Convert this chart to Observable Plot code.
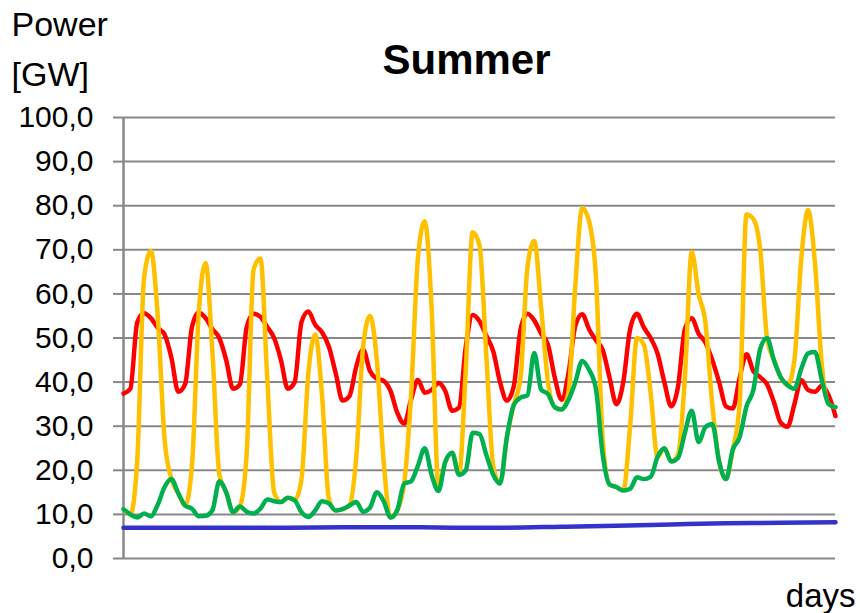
<!DOCTYPE html>
<html>
<head>
<meta charset="utf-8">
<script src="https://cdn.jsdelivr.net/npm/d3@7"></script>
<script src="https://cdn.jsdelivr.net/npm/@observablehq/plot@0.6"></script>
<style>
  html, body { margin: 0; padding: 0; background: #fff; }
  #chart svg { display: block; }
</style>
</head>
<body>
<div id="chart"></div>
<script>
// ---- data ----
const stepHours = 3;       // spacing of the samples below, in hours
const baseStepHours = 24;  // spacing of the base-load samples
const yTicks = [0, 10, 20, 30, 40, 50, 60, 70, 80, 90, 100];

// red: total load [GW], one value every 3 h, 13 summer days
const load = [
  37.4, 38.5, 53.5, 55.6, 54.5, 52.3, 50.8, 45.5,
  37.8, 39.5, 52.5, 55.8, 54.5, 52.0, 50.0, 45.0,
  38.5, 39.5, 52.5, 55.5, 54.8, 52.5, 50.0, 45.0,
  38.5, 40.0, 53.6, 56.0, 53.0, 51.3, 48.0, 42.0,
  35.8, 36.8, 43.5, 47.4, 42.5, 40.8, 40.3, 38.0,
  33.0, 30.6, 36.0, 40.5, 37.6, 38.2, 39.8, 38.0,
  33.5, 34.2, 48.0, 55.2, 53.8, 50.5, 47.0, 40.0,
  35.8, 39.0, 52.0, 55.5, 54.0, 51.0, 48.5, 41.0,
  36.0, 42.0, 52.8, 55.4, 52.0, 49.5, 47.3, 41.0,
  35.0, 40.0, 52.0, 55.5, 52.4, 50.0, 46.5, 40.0,
  34.5, 39.0, 52.0, 54.5, 51.0, 49.0, 45.0, 40.0,
  34.5, 34.0, 41.0, 46.3, 42.5, 41.1, 39.5, 35.5,
  30.8, 29.9, 35.0, 40.5, 38.2, 37.8, 39.2, 37.0,
  32.3
];

// yellow: wind + solar [GW]
const windSolar = [
  11.2, 10.0, 22.0, 63.5, 69.7, 55.0, 27.0, 18.0,
  14.8, 12.0, 21.0, 56.0, 67.0, 46.5, 19.0, 15.0,
  10.5, 11.8, 24.0, 65.5, 68.0, 40.8, 15.0, 12.8,
  13.8, 13.2, 18.0, 42.0, 50.8, 37.0, 13.5, 10.9,
  11.2, 12.0, 23.0, 48.0, 55.0, 45.0, 22.0, 9.3,
  11.0, 17.0, 37.0, 68.0, 76.5, 57.0, 16.5, 21.9,
  24.0, 19.0, 43.0, 74.0, 71.0, 46.0, 21.0, 17.0,
  27.5, 34.8, 41.0, 66.0, 72.0, 57.0, 40.0, 34.3,
  33.8, 37.7, 62.0, 79.5, 76.5, 64.0, 27.0, 16.8,
  16.2, 15.4, 30.0, 50.0, 48.5, 37.5, 23.0, 25.0,
  22.0, 23.5, 41.0, 69.5, 60.0, 53.5, 35.0, 22.0,
  18.0, 24.7, 35.0, 78.0, 77.0, 70.0, 50.0, 45.0,
  41.1, 39.3, 45.0, 68.0, 79.0, 67.0, 44.0, 35.0,
  34.3
];

// green: wind [GW]
const wind = [
  11.2, 10.0, 9.3, 10.2, 9.6, 12.2, 16.2, 18.0,
  14.8, 12.0, 11.3, 9.6, 9.7, 11.0, 17.5, 15.0,
  10.5, 11.8, 10.6, 10.2, 11.3, 13.4, 13.0, 12.8,
  13.8, 13.2, 10.5, 9.4, 10.9, 13.0, 12.5, 10.9,
  11.2, 12.0, 12.8, 10.6, 11.5, 15.0, 13.0, 9.3,
  11.0, 17.0, 17.5, 21.0, 25.0, 19.0, 15.3, 21.9,
  24.0, 19.0, 20.0, 28.5, 28.2, 23.5, 19.0, 17.0,
  27.5, 34.8, 36.5, 37.0, 46.6, 38.3, 37.3, 34.3,
  33.8, 36.0, 40.0, 44.8, 42.8, 38.5, 23.5, 16.8,
  16.2, 15.4, 15.8, 18.4, 18.0, 18.5, 23.0, 25.0,
  22.0, 22.8, 28.5, 33.5, 26.4, 29.8, 30.5, 22.0,
  18.0, 24.7, 27.5, 34.5, 38.2, 47.5, 50.0, 45.0,
  41.1, 39.3, 38.5, 43.0, 46.5, 46.8, 40.5, 35.0,
  34.3
];

// blue: base load [GW], one value per day
const baseload = [7.0, 7.0, 7.0, 7.0, 7.1, 7.1, 7.0, 7.0, 7.2, 7.4, 7.7, 8.0, 8.1, 8.2];

const colors = { load: "#ff0000", windSolar: "#ffc000", wind: "#00b050", baseload: "#3333cc" };

// ---- build rows ----
const rows = (values, step) => values.map((v, i) => ({ hour: i * step, power: v }));
const loadRows = rows(load, stepHours);
const windSolarRows = rows(windSolar, stepHours);
const windRows = rows(wind, stepHours);
const baseRows = rows(baseload, baseStepHours);
const lastHour = (load.length - 1) * stepHours;

const fmt = d => d.toFixed(1).replace(".", ",");
const gridColor = "#888888";
const lineOpts = (color) => ({ x: "hour", y: "power", stroke: color, strokeWidth: 4.5, curve: "monotone-x" });

const chart = Plot.plot({
  width: 860,
  height: 613,
  marginLeft: 123,
  marginRight: 25,
  marginTop: 117,
  marginBottom: 55,
  style: { fontFamily: "'Liberation Sans', Arial, sans-serif", fontSize: "30px", color: "black", background: "white" },
  x: { domain: [0, lastHour], axis: null },
  y: { domain: [0, 100] },
  marks: [
    Plot.ruleY(yTicks, { stroke: gridColor, strokeWidth: 2 }),
    Plot.axisY({ ticks: yTicks, tickSize: 10, tickPadding: 20, stroke: gridColor, strokeWidth: 2,
                 fill: "black", fontSize: 30, label: null, tickFormat: fmt }),
    Plot.ruleX([0], { stroke: gridColor, strokeWidth: 2.5 }),
    Plot.line(baseRows, lineOpts(colors.baseload)),
    Plot.line(loadRows, lineOpts(colors.load)),
    Plot.line(windSolarRows, lineOpts(colors.windSolar)),
    Plot.line(windRows, lineOpts(colors.wind)),
    Plot.text(["Summer"], { text: d => d, frameAnchor: "top", dx: -13, dy: -44, lineAnchor: "bottom",
                            fontSize: 42, fontWeight: "bold", fill: "black" }),
    Plot.text(["Power\n[GW]"], { text: d => d, frameAnchor: "top-left", textAnchor: "start", dx: -112, dy: -32,
                                 lineAnchor: "bottom", lineHeight: 1.455, fontSize: 34, fill: "black" }),
    Plot.text(["days"], { text: d => d, frameAnchor: "bottom-right", textAnchor: "end", dx: 20, dy: 48,
                          lineAnchor: "bottom", fontSize: 33, fill: "black" })
  ]
});
document.getElementById("chart").append(chart);
</script>
</body>
</html>
